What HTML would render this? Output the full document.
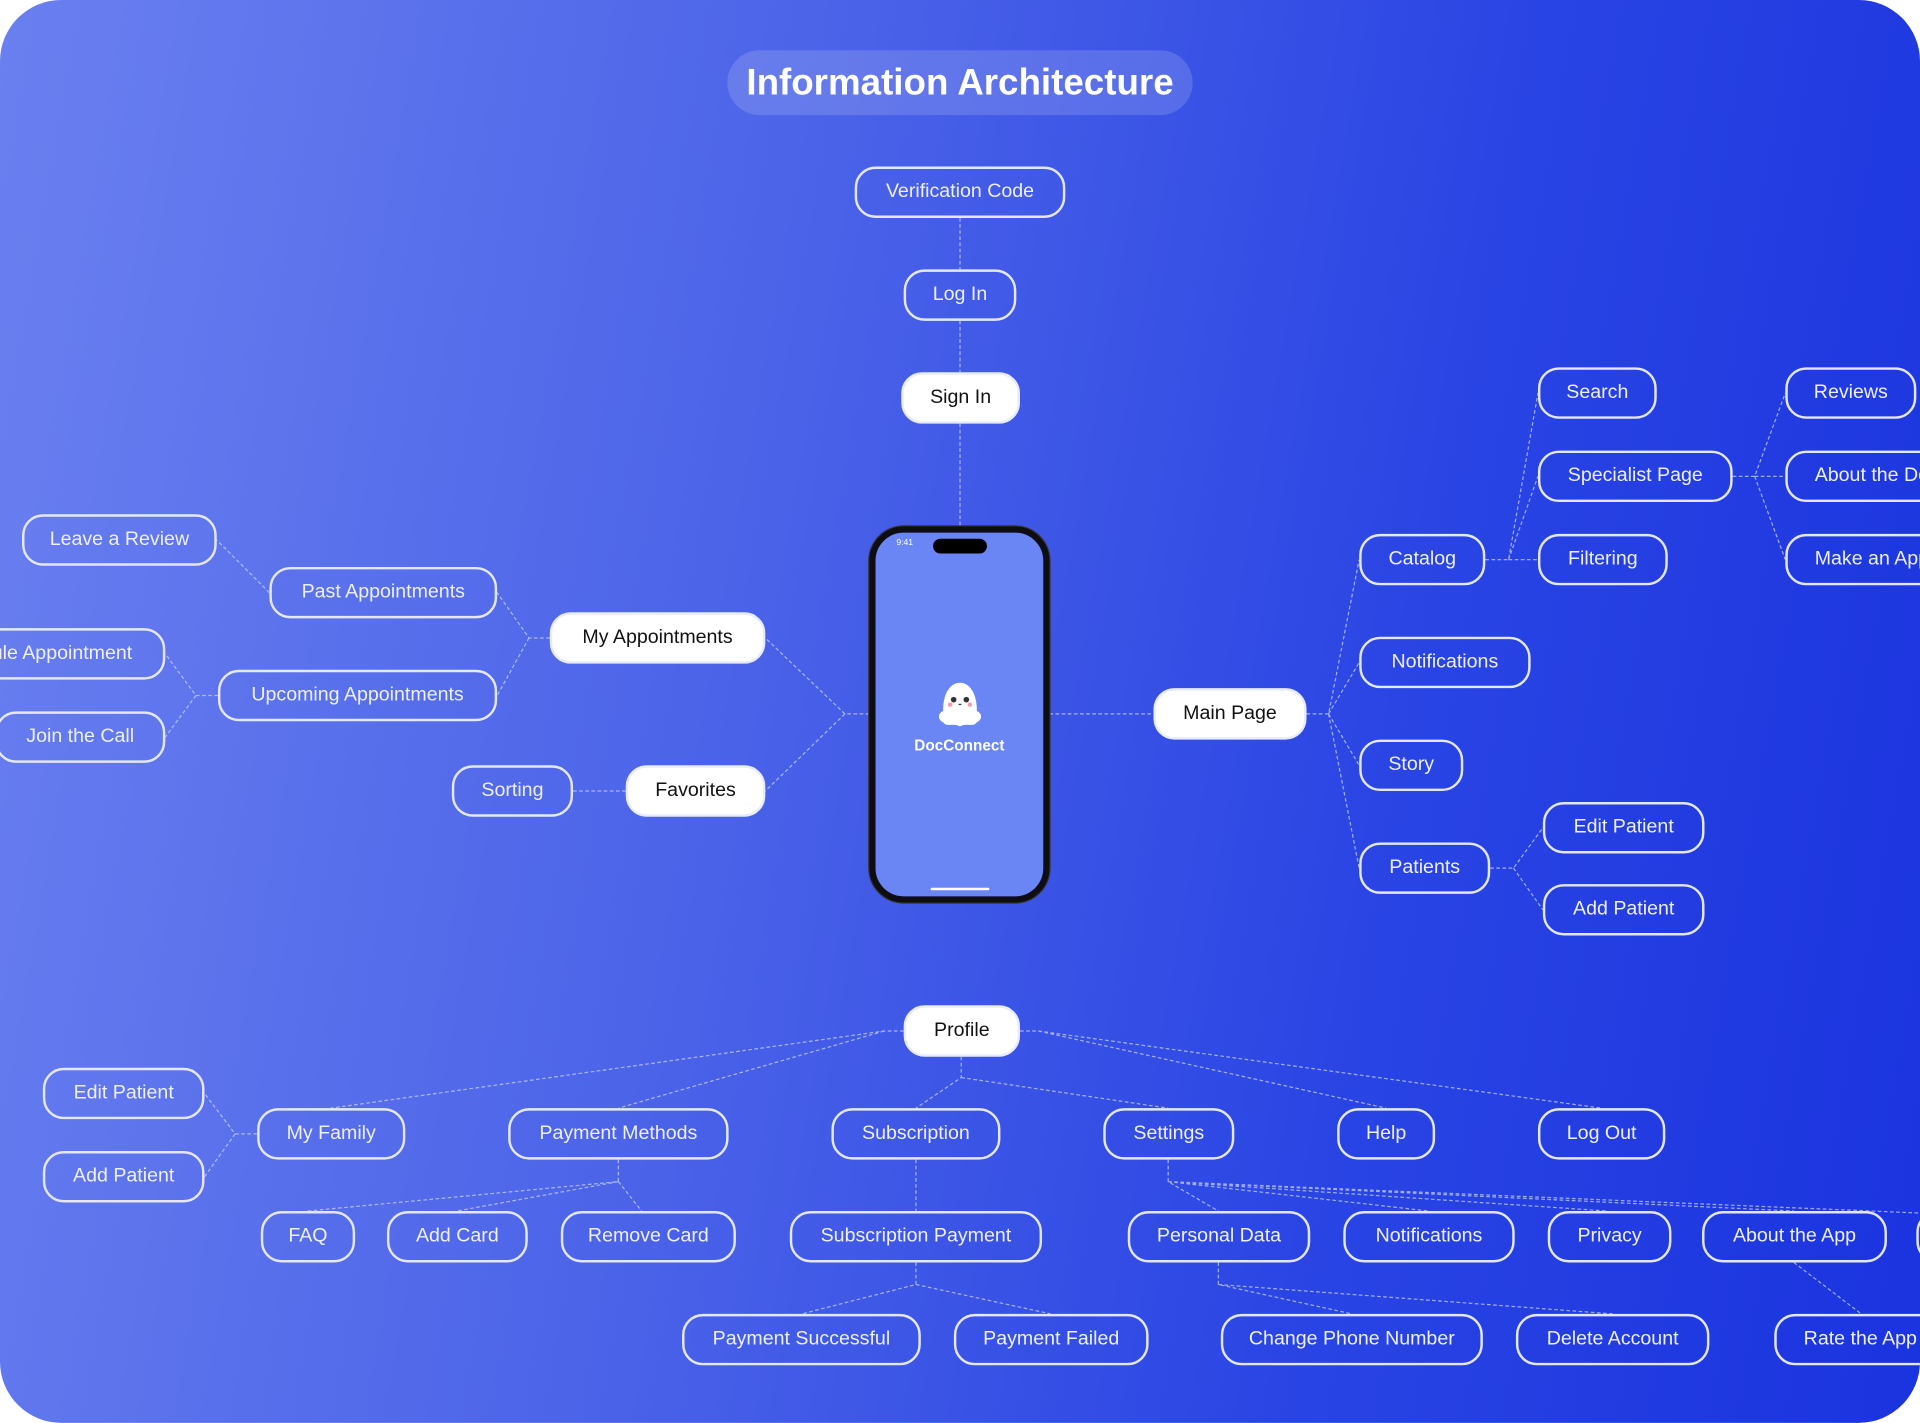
<!DOCTYPE html>
<html><head><meta charset="utf-8">
<style>
html,body{margin:0;padding:0;background:#fff;}
body{width:1920px;height:1423px;overflow:hidden;}
#w{position:absolute;left:0;top:0;width:1568px;height:1162px;transform:scale(1.22449);transform-origin:0 0;border-radius:50px;overflow:hidden;
background:linear-gradient(100deg,#6a80f0 0%,#4a62e8 40%,#2a45e4 70%,#1a33df 100%);font-family:"Liberation Sans",sans-serif;}
.n{position:absolute;box-sizing:border-box;height:42px;border:2px solid #e4e7fa;border-radius:17px;color:#eef0fc;font-size:16px;line-height:38px;text-align:center;white-space:nowrap;overflow:hidden;}
.w{background:#fff;color:#111;border-color:#e8ebfb;}
#t{position:absolute;left:594px;top:41px;width:380px;height:53px;border-radius:27px;background:rgba(255,255,255,0.15);color:#fff;font-weight:bold;font-size:30px;line-height:53px;text-align:center;}
svg{position:absolute;left:0;top:0;}
</style></head><body><div id="w">
<svg width="1568" height="1162"><g stroke="#c9d1fb" stroke-opacity="0.75" stroke-width="1" stroke-dasharray="3 2" fill="none">
<path d="M784 178V220M784 262V304M784 346V430"/>
<path d="M710 583H690L625 521M690 583L625 646"/>
<path d="M857 583H942"/>
<path d="M449 521H432L406 484M432 521L406 568"/>
<path d="M220 484L177 441"/>
<path d="M178 568H160L135 534M160 568L135 602"/>
<path d="M468 646H511"/>
<path d="M1067 583H1085L1110 457M1085 583L1110 541M1085 583L1110 625M1085 583L1110 709"/>
<path d="M1213 457H1232L1256 321M1232 457L1256 389M1232 457H1256"/>
<path d="M1415 389H1433L1458 321M1433 389H1458M1433 389L1458 457"/>
<path d="M1217 709H1236L1260 676M1236 709L1260 743"/>
<path d="M738 842H722L270 905M722 842L505 905"/>
<path d="M833 842H848L1132 905M848 842L1308 905"/>
<path d="M785 863V880L748 905M785 880L954 905"/>
<path d="M210 926H192L167 893M192 926L167 961"/>
<path d="M505 947V965L251 989M505 965L373 989M505 965L524 989"/>
<path d="M748 947V989"/>
<path d="M748 1031V1049L655 1073M748 1049L858 1073"/>
<path d="M954 947V965L995 989M954 965L1167 989M954 965L1313 989M954 965L1465 989M954 965L1600 992"/>
<path d="M995 1031V1049L1104 1073M995 1049L1317 1073"/>
<path d="M1465 1031L1520 1073"/>
</g></svg>
<div id="t">Information Architecture</div>
<div class="n" style="left:698px;top:136px;width:172px">Verification Code</div>
<div class="n" style="left:738px;top:220px;width:92px">Log In</div>
<div class="n w" style="left:736px;top:304px;width:97px">Sign In</div>
<div class="n" style="left:18px;top:420px;width:159px">Leave a Review</div>
<div class="n" style="left:220px;top:463px;width:186px">Past Appointments</div>
<div class="n w" style="left:449px;top:500px;width:176px">My Appointments</div>
<div class="n" style="left:-150px;top:513px;width:285px;text-align:right;padding-right:25px">Reschedule Appointment</div>
<div class="n" style="left:178px;top:547px;width:228px">Upcoming Appointments</div>
<div class="n" style="left:-4px;top:581px;width:139px">Join the Call</div>
<div class="n" style="left:369px;top:625px;width:99px">Sorting</div>
<div class="n w" style="left:511px;top:625px;width:114px">Favorites</div>
<div class="n w" style="left:942px;top:562px;width:125px">Main Page</div>
<div class="n" style="left:1110px;top:436px;width:103px">Catalog</div>
<div class="n" style="left:1110px;top:520px;width:140px">Notifications</div>
<div class="n" style="left:1110px;top:604px;width:85px">Story</div>
<div class="n" style="left:1110px;top:688px;width:107px">Patients</div>
<div class="n" style="left:1256px;top:300px;width:97px">Search</div>
<div class="n" style="left:1256px;top:368px;width:159px">Specialist Page</div>
<div class="n" style="left:1256px;top:436px;width:106px">Filtering</div>
<div class="n" style="left:1458px;top:300px;width:107px">Reviews</div>
<div class="n" style="left:1458px;top:368px;width:160px;text-align:left;padding-left:22px">About the Doctor</div>
<div class="n" style="left:1458px;top:436px;width:160px;text-align:left;padding-left:22px">Make an Appointment</div>
<div class="n" style="left:1260px;top:655px;width:132px">Edit Patient</div>
<div class="n" style="left:1260px;top:722px;width:132px">Add Patient</div>
<div class="n w" style="left:738px;top:821px;width:95px">Profile</div>
<div class="n" style="left:35px;top:872px;width:132px">Edit Patient</div>
<div class="n" style="left:35px;top:940px;width:132px">Add Patient</div>
<div class="n" style="left:210px;top:905px;width:121px">My Family</div>
<div class="n" style="left:415px;top:905px;width:180px">Payment Methods</div>
<div class="n" style="left:679px;top:905px;width:138px">Subscription</div>
<div class="n" style="left:901px;top:905px;width:107px">Settings</div>
<div class="n" style="left:1092px;top:905px;width:80px">Help</div>
<div class="n" style="left:1256px;top:905px;width:104px">Log Out</div>
<div class="n" style="left:213px;top:989px;width:77px">FAQ</div>
<div class="n" style="left:316px;top:989px;width:115px">Add Card</div>
<div class="n" style="left:458px;top:989px;width:143px">Remove Card</div>
<div class="n" style="left:645px;top:989px;width:206px">Subscription Payment</div>
<div class="n" style="left:921px;top:989px;width:149px">Personal Data</div>
<div class="n" style="left:1097px;top:989px;width:140px">Notifications</div>
<div class="n" style="left:1264px;top:989px;width:101px">Privacy</div>
<div class="n" style="left:1390px;top:989px;width:151px">About the App</div>
<div class="n" style="left:1565px;top:989px;width:100px"></div>
<div class="n" style="left:557px;top:1073px;width:195px">Payment Successful</div>
<div class="n" style="left:779px;top:1073px;width:159px">Payment Failed</div>
<div class="n" style="left:997px;top:1073px;width:214px">Change Phone Number</div>
<div class="n" style="left:1238px;top:1073px;width:158px">Delete Account</div>
<div class="n" style="left:1449px;top:1073px;width:160px;text-align:left;padding-left:22px">Rate the App</div>
<!-- phone -->
<div style="position:absolute;left:710px;top:430px;width:147px;height:307px;box-sizing:border-box;border:5px solid #0d0d12;border-radius:28px;background:#6a86f5;box-shadow:0 0 0 1px #333;">
<div style="position:absolute;left:47px;top:5px;width:44px;height:12px;border-radius:6px;background:#000"></div>
<div style="position:absolute;left:17px;top:5px;font-size:7px;color:#fff">9:41</div>
<div style="position:absolute;left:45px;bottom:5px;width:48px;height:2px;background:#fff;border-radius:1px"></div>
<svg width="46" height="46" viewBox="0 0 40 40" style="left:46px;top:118px">
<path d="M8 24 C8 10 14 4 20 4 C26 4 32 10 32 24 C36 26 36 30 32 32 C29 36 25 32 20 35 C15 32 11 36 8 32 C4 30 4 26 8 24Z" fill="#fff"/>
<circle cx="15.5" cy="16" r="2" fill="#333"/><circle cx="24.5" cy="16" r="2" fill="#333"/>
<circle cx="13" cy="19.5" r="1.6" fill="#f5a0a8"/><circle cx="27" cy="19.5" r="1.6" fill="#f5a0a8"/>
<path d="M19 19 Q20 20 21 19" stroke="#333" stroke-width="0.8" fill="none"/></svg>
<div style="position:absolute;left:0;width:137px;top:167px;text-align:center;color:#fff;font-weight:bold;font-size:12.5px">DocConnect</div>
</div>
</div></body></html>
